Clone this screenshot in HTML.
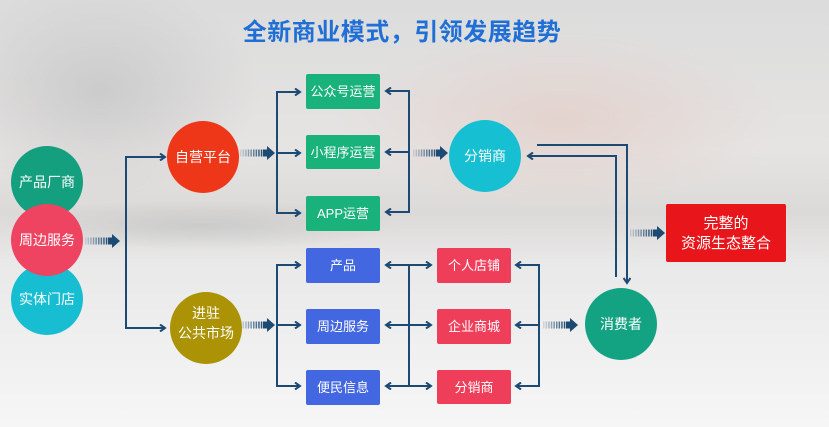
<!DOCTYPE html>
<html><head><meta charset="utf-8"><style>
html,body{margin:0;padding:0;width:829px;height:427px;overflow:hidden}
body{background:#eeeeee;font-family:"Liberation Sans","Noto Sans CJK SC",sans-serif}
</style></head><body>
<svg width="829" height="427" viewBox="0 0 829 427" xmlns="http://www.w3.org/2000/svg" font-family="Liberation Sans, Noto Sans CJK SC, sans-serif">
<defs>
<linearGradient id="bg" x1="0" y1="0" x2="0" y2="1">
<stop offset="0" stop-color="#dcdcdc"/><stop offset="0.35" stop-color="#e6e4e3"/>
<stop offset="0.5" stop-color="#dcdad8"/><stop offset="0.62" stop-color="#e9e9e9"/>
<stop offset="1" stop-color="#f6f6f6"/></linearGradient>
<radialGradient id="pk" cx="0.5" cy="0.5" r="0.5"><stop offset="0" stop-color="#e3cfc9" stop-opacity="0.8"/><stop offset="1" stop-color="#e3cfc9" stop-opacity="0"/></radialGradient>
<radialGradient id="gr" cx="0.5" cy="0.5" r="0.5"><stop offset="0" stop-color="#c9c9c9" stop-opacity="0.9"/><stop offset="1" stop-color="#c9c9c9" stop-opacity="0"/></radialGradient>
<g id="da" fill="#1d4a72">
<rect x="0" y="-3.5" width="1.5" height="7" opacity="0.15"/>
<rect x="2.6" y="-3.5" width="1.5" height="7" opacity="0.25"/>
<rect x="5.2" y="-3.5" width="1.5" height="7" opacity="0.35"/>
<rect x="7.8" y="-3.5" width="1.5" height="7" opacity="0.45"/>
<rect x="10.4" y="-3.5" width="1.5" height="7" opacity="0.55"/>
<rect x="13" y="-3.5" width="1.5" height="7" opacity="0.65"/>
<rect x="15.6" y="-3.5" width="1.5" height="7" opacity="0.75"/>
<rect x="18.2" y="-3.5" width="1.5" height="7" opacity="0.85"/>
<rect x="20.8" y="-3.5" width="1.5" height="7" opacity="0.95"/>
<rect x="23" y="-3.5" width="4" height="7"/>
<polygon points="27,-7 35,0 27,7"/></g>
<marker id="ah" markerWidth="8" markerHeight="8" refX="6" refY="4" orient="auto-start-reverse" markerUnits="userSpaceOnUse"><path d="M1,0.5 L6,4 L1,7.5" fill="none" stroke="#1d4a72" stroke-width="2"/></marker>
</defs>
<rect width="829" height="427" fill="url(#bg)"/>
<ellipse cx="100" cy="90" rx="160" ry="110" fill="url(#gr)"/>
<ellipse cx="560" cy="120" rx="220" ry="90" fill="url(#pk)"/>
<ellipse cx="200" cy="225" rx="200" ry="25" fill="url(#gr)"/>

<text x="402" y="40" text-anchor="middle" font-size="24" font-weight="bold" fill="#1f6fd6" letter-spacing="0.5">全新商业模式，引领发展趋势</text>

<g fill="none" stroke="#1d4a72" stroke-width="2">
<path d="M165,157 H126 V328 H165" marker-start="url(#ah)" marker-end="url(#ah)"/>
<path d="M300,92 H277 V213 H300" marker-start="url(#ah)" marker-end="url(#ah)"/>
<path d="M277,153 H300" marker-end="url(#ah)"/>
<path d="M300,265 H277 V386 H300" marker-start="url(#ah)" marker-end="url(#ah)"/>
<path d="M277,325 H300" marker-end="url(#ah)"/>
<path d="M386,91 H409 V212 H386" marker-start="url(#ah)" marker-end="url(#ah)"/>
<path d="M409,152 H386" marker-end="url(#ah)"/>
<path d="M409,265 V386"/>
<path d="M409,265 H386" marker-end="url(#ah)"/><path d="M409,265 H431" marker-end="url(#ah)"/>
<path d="M409,325 H386" marker-end="url(#ah)"/><path d="M409,325 H431" marker-end="url(#ah)"/>
<path d="M409,386 H386" marker-end="url(#ah)"/><path d="M409,386 H431" marker-end="url(#ah)"/>
<path d="M516,265 H539 V386 H516" marker-start="url(#ah)" marker-end="url(#ah)"/>
<path d="M539,325 H516" marker-end="url(#ah)"/>
<path d="M537,145 H627 V283" marker-end="url(#ah)"/>
<path d="M616,277 V156 H528" marker-end="url(#ah)"/>
</g>
<use href="#da" x="85" y="241"/>
<use href="#da" x="240" y="153"/>
<use href="#da" x="240" y="325"/>
<use href="#da" x="413" y="153"/>
<use href="#da" x="543" y="325"/>
<use href="#da" x="630" y="233"/>

<g font-size="14" fill="#fff" text-anchor="middle">
<circle cx="47" cy="182" r="36" fill="#14a07f"/><text x="47" y="187">产品厂商</text>
<circle cx="47" cy="299" r="36" fill="#17bdd0"/><text x="47" y="304">实体门店</text>
<circle cx="47" cy="240" r="36" fill="#ee4462"/><text x="47" y="245">周边服务</text>
<circle cx="203" cy="157" r="36" fill="#ee3718"/><text x="203" y="162">自营平台</text>
<circle cx="206" cy="328" r="36" fill="#ac9205"/><text x="206" y="318">进驻</text><text x="206" y="338">公共市场</text>
<circle cx="485" cy="156" r="36" fill="#17bfd2"/><text x="485" y="161">分销商</text>
<circle cx="621" cy="324" r="36" fill="#13a383"/><text x="621" y="329">消费者</text>
<g font-size="13">
<rect x="306" y="74" width="74" height="35" rx="2" fill="#19b27a"/><text x="343" y="96">公众号运营</text>
<rect x="306" y="135" width="74" height="34" rx="2" fill="#19b27a"/><text x="343" y="157">小程序运营</text>
<rect x="306" y="196" width="74" height="35" rx="2" fill="#19b27a"/><text x="343" y="218">APP运营</text>
<rect x="306" y="248" width="74" height="35" rx="2" fill="#4367e0"/><text x="343" y="270">产品</text>
<rect x="306" y="309" width="74" height="35" rx="2" fill="#4367e0"/><text x="343" y="331">周边服务</text>
<rect x="306" y="370" width="74" height="35" rx="2" fill="#4367e0"/><text x="343" y="392">便民信息</text>
<rect x="437" y="248" width="74" height="35" rx="2" fill="#ef3e5a"/><text x="474" y="270">个人店铺</text>
<rect x="437" y="309" width="74" height="35" rx="2" fill="#ef3e5a"/><text x="474" y="331">企业商城</text>
<rect x="437" y="370" width="74" height="34" rx="2" fill="#ef3e5a"/><text x="474" y="392">分销商</text>
</g>
<rect x="666" y="204" width="120" height="58" rx="2" fill="#e8151a"/>
<text x="726" y="228" font-size="15">完整的</text><text x="726" y="248" font-size="15">资源生态整合</text>
</g>
</svg>
</body></html>
